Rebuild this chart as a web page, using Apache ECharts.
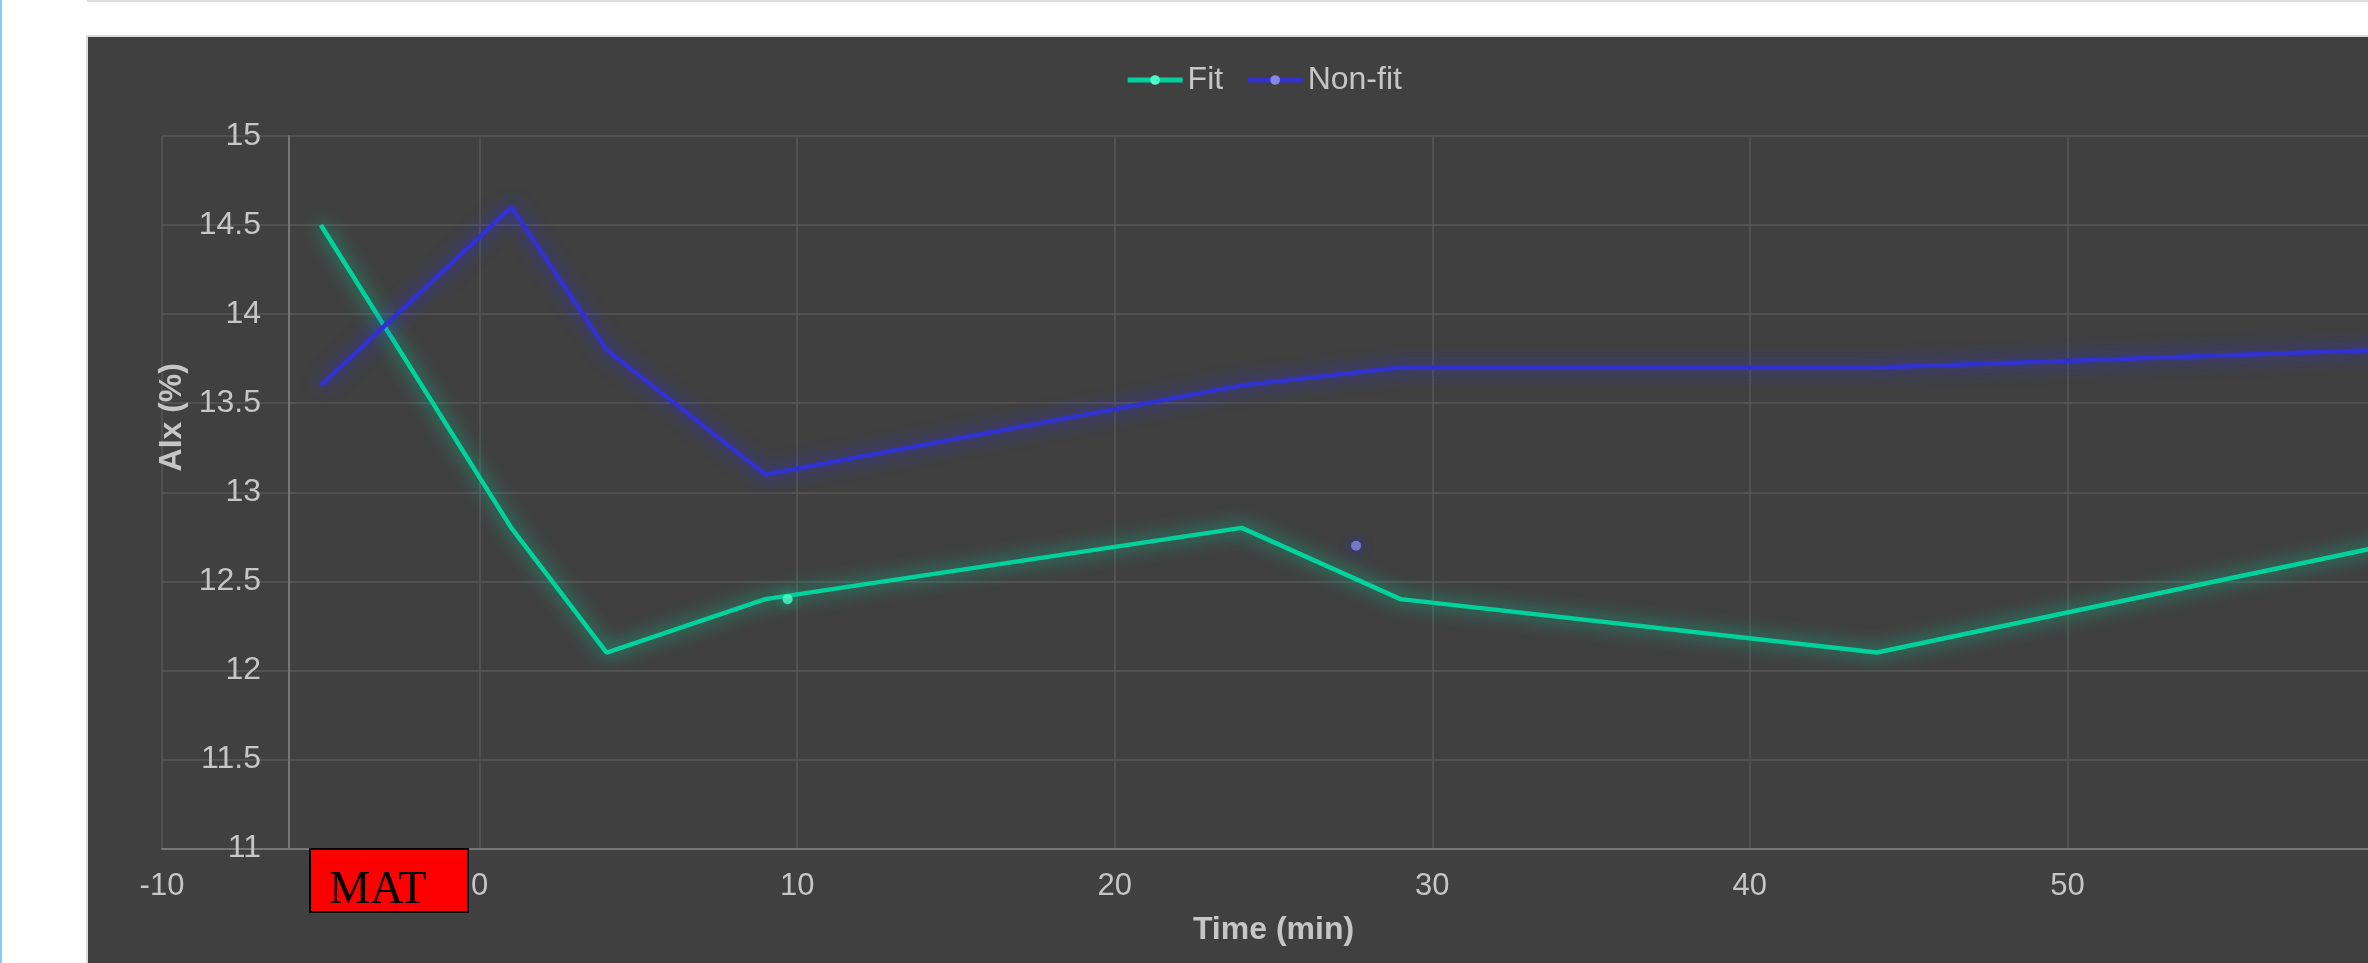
<!DOCTYPE html>
<html>
<head>
<meta charset="utf-8">
<script src="https://cdn.jsdelivr.net/npm/echarts@6/dist/echarts.min.js"></script>
<style>
  html, body { margin: 0; padding: 0; width: 2368px; height: 963px; overflow: hidden; background: #ffffff; }
  #leftbar { position: absolute; left: 0; top: 0; width: 2px; height: 963px; background: #86cdf7; }
  #topline { position: absolute; left: 87px; top: 0; width: 2400px; height: 2px; background: #dcdcdc; }
  #frame { position: absolute; left: 86px; top: 35px; width: 2400px; height: 1000px; border-top: 2px solid #dcdcdc; border-left: 2px solid #dcdcdc; background: #404040; }
  #chart { position: absolute; left: 88px; top: 37px; width: 2351px; height: 926px; }
  #mat { position: absolute; left: 309px; top: 848px; width: 160px; height: 65px; box-sizing: border-box;
         border: 2px solid #000; background: #ff0000; color: #000; font-family: "Liberation Serif", "Times New Roman", serif;
         font-size: 46px; line-height: 46px; padding-left: 18px; padding-top: 15px; white-space: nowrap; }
</style>
</head>
<body>
<div id="leftbar"></div>
<div id="topline"></div>
<div id="frame"></div>
<div id="chart"></div>
<div id="mat">MAT</div>
<script>
// Data
const timeFit = [-5, 1, 4, 9, 24, 29, 44, 60];
const aixFit = [14.5, 12.8, 12.1, 12.4, 12.8, 12.4, 12.1, 12.7];
const timeNonFit = [-5, 1, 4, 9, 24, 29, 44, 60];
const aixNonFit = [13.6, 14.6, 13.8, 13.1, 13.6, 13.7, 13.7, 13.8];
// isolated points
const fitPointX = [9.7];
const fitPointY = [12.4];
const nonFitPointX = [27.6];
const nonFitPointY = [12.7];
const seriesNames = ['Fit', 'Non-fit'];

const pairs = (xs, ys) => xs.map((x, i) => [x, ys[i]]);

const fitLine = '#00d29c';
const fitDot = '#4dfcca';
const nonLine = '#3131cf';
const nonDot = '#8787e4';
const txt = '#c6c6c6';
const font = '"Liberation Sans", Arial, Helvetica, sans-serif';

const chart = echarts.init(document.getElementById('chart'), null, { renderer: 'canvas' });
chart.setOption({
  backgroundColor: '#404040',
  animation: false,
  textStyle: { fontFamily: font },
  legend: {
    data: seriesNames,
    top: 22,
    left: 'center',
    itemWidth: 55,
    itemHeight: 12,
    itemGap: 22,
    lineStyle: { width: 5, shadowBlur: 0 },
    itemStyle: { shadowBlur: 0 },
    textStyle: { color: txt, fontSize: 32, fontFamily: font }
  },
  grid: { left: 74, right: 54, top: 99, bottom: 114.5, containLabel: false },
  xAxis: {
    type: 'value', min: -10, max: 60, interval: 10,
    name: 'Time (min)', nameLocation: 'middle', nameGap: 66,
    nameTextStyle: { color: txt, fontSize: 32, fontWeight: 'bold', fontFamily: font },
    axisLine: { show: true, onZero: false, lineStyle: { color: '#767676', width: 2 } },
    axisTick: { show: false },
    axisLabel: { color: txt, fontSize: 31, margin: 22, fontFamily: font },
    splitLine: { show: true, lineStyle: { color: '#575757', width: 1.5 } }
  },
  yAxis: {
    type: 'value', min: 11, max: 15, interval: 0.5,
    offset: -127,
    name: 'AIx (%)', nameLocation: 'middle', nameGap: 95, nameRotate: 90,
    nameTextStyle: { color: txt, fontSize: 32, fontWeight: 'bold', fontFamily: font, padding: [0, 0, 0, 150] },
    axisLine: { show: true, onZero: false, lineStyle: { color: '#767676', width: 2 } },
    axisTick: { show: false },
    axisLabel: { color: txt, fontSize: 32, margin: 28, fontFamily: font },
    splitLine: { show: true, lineStyle: { color: '#575757', width: 1.5 } }
  },
  series: [
    {
      name: seriesNames[0], type: 'line', data: pairs(timeFit, aixFit),
      showSymbol: false, symbol: 'circle', symbolSize: 9, z: 2,
      itemStyle: { color: fitDot },
      lineStyle: { color: fitLine, width: 4.5, shadowColor: 'rgba(0,210,156,1)', shadowBlur: 18 }
    },
    {
      name: seriesNames[1], type: 'line', data: pairs(timeNonFit, aixNonFit),
      showSymbol: false, symbol: 'circle', symbolSize: 9, z: 3,
      itemStyle: { color: nonDot },
      lineStyle: { color: nonLine, width: 4.5, shadowColor: 'rgba(49,49,230,1)', shadowBlur: 18 }
    },
    {
      name: seriesNames[0], type: 'scatter', data: pairs(fitPointX, fitPointY),
      symbol: 'circle', symbolSize: 10, z: 4,
      itemStyle: { color: fitDot, shadowColor: 'rgba(0,210,156,1)', shadowBlur: 12 }
    },
    {
      name: seriesNames[1], type: 'scatter', data: pairs(nonFitPointX, nonFitPointY),
      symbol: 'circle', symbolSize: 10, z: 4,
      itemStyle: { color: nonDot, shadowColor: 'rgba(40,40,230,1)', shadowBlur: 12 }
    }
  ]
});
</script>
</body>
</html>
